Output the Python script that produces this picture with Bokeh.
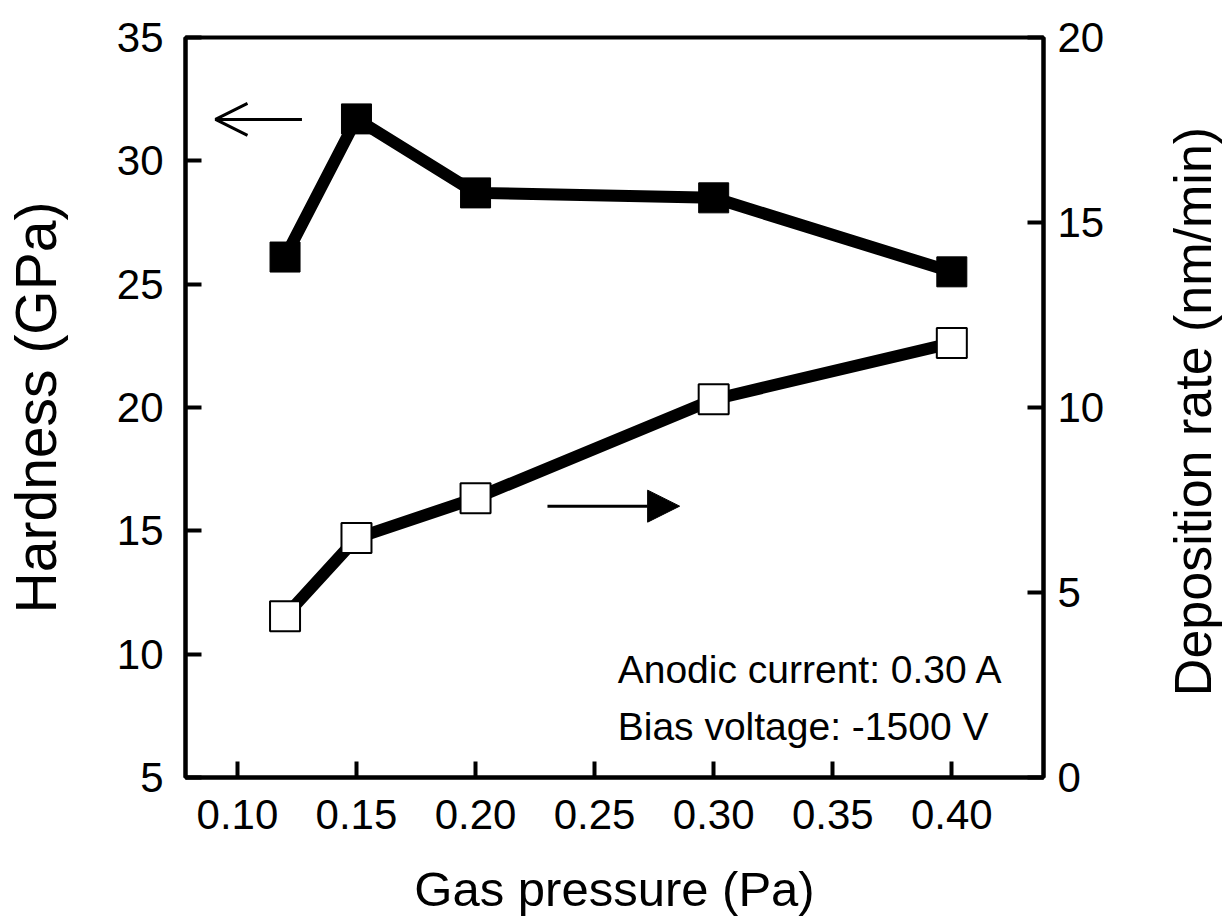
import math
from bokeh.plotting import figure
from bokeh.layouts import row
from bokeh.models import (Range1d, LinearAxis, FixedTicker, PrintfTickFormatter,
                          Arrow, OpenHead, NormalHead, Label)
from bokeh.embed import file_html
from bokeh.resources import INLINE

# ---- data ----
pressure = [0.12, 0.15, 0.20, 0.30, 0.40]
hardness = [26.1, 31.7, 28.7, 28.5, 25.5]
deposition = [4.36, 6.47, 7.55, 10.22, 11.74]

x_ticks = [0.10, 0.15, 0.20, 0.25, 0.30, 0.35, 0.40]
left_ticks = [5, 10, 15, 20, 25, 30, 35]
right_ticks = [0, 5, 10, 15, 20]

x_title = "Gas pressure (Pa)"
left_title = "Hardness (GPa)"
right_title = "Deposition rate  (nm/min)"
notes = ["Anodic current: 0.30 A", "Bias voltage: -1500 V"]
note_y = [9.38, 7.07]

# arrow annotations (pressure, hardness-axis units)
left_arrow = dict(x0=0.1271, x1=0.0908, y=31.68)
right_arrow = dict(x0=0.2302, x1=0.2857, y=16.0)

FONT = "Liberation Sans"
W, H = 1227, 920
W2 = 60          # narrow strip that carries the right-hand axis title
W1 = W - W2

p = figure(width=W1, height=H, output_backend="svg", toolbar_location=None,
           x_range=Range1d(0.0782, 0.4385), y_range=Range1d(5, 35),
           min_border_left=183, min_border_right=W1 - 1043,
           min_border_top=37, min_border_bottom=143,
           x_axis_label=x_title, y_axis_label=left_title)
p.extra_y_ranges = {"dep": Range1d(0, 20)}

p.grid.visible = False
p.outline_line_color = "black"
p.outline_line_width = 4
p.background_fill_color = "white"
p.border_fill_color = "white"

def style_axis(ax):
    ax.axis_line_width = 4
    ax.axis_line_color = "black"
    ax.major_tick_line_width = 4
    ax.major_tick_line_color = "black"
    ax.major_tick_in = 16
    ax.major_tick_out = 0
    ax.minor_tick_line_color = None
    ax.major_label_text_font = FONT
    ax.major_label_text_font_size = "42px"
    ax.major_label_text_color = "black"
    ax.axis_label_text_font = FONT
    ax.axis_label_text_font_size = "49px"
    ax.axis_label_text_font_style = "normal"
    ax.axis_label_text_color = "black"

xa = p.xaxis[0]
style_axis(xa)
xa.ticker = FixedTicker(ticks=x_ticks)
xa.formatter = PrintfTickFormatter(format="%.2f")
xa.major_label_standoff = 22
xa.axis_label_standoff = 30

ya = p.yaxis[0]
style_axis(ya)
ya.ticker = FixedTicker(ticks=left_ticks)
ya.major_label_standoff = 22
ya.axis_label_standoff = 46
ya.axis_label_text_font_size = "57px"

ra = LinearAxis(y_range_name="dep")
style_axis(ra)
ra.ticker = FixedTicker(ticks=right_ticks)
ra.major_label_standoff = 14
p.add_layout(ra, "right")

# hardness series
p.line(pressure, hardness, line_width=12, line_color="black", line_join="miter")
p.scatter(pressure, hardness, marker="square", size=30,
          fill_color="black", line_color="black", line_width=1)

# deposition series
p.line(pressure, deposition, y_range_name="dep", line_width=12,
       line_color="black", line_join="miter")
p.scatter(pressure, deposition, y_range_name="dep", marker="square", size=30,
          fill_color="white", line_color="black", line_width=2)

# arrows
p.add_layout(Arrow(x_start=left_arrow["x0"], y_start=left_arrow["y"],
                   x_end=left_arrow["x1"], y_end=left_arrow["y"],
                   line_width=3, line_color="black",
                   end=OpenHead(size=32, line_width=3, line_color="black")))
p.add_layout(Arrow(x_start=right_arrow["x0"], y_start=right_arrow["y"],
                   x_end=right_arrow["x1"], y_end=right_arrow["y"],
                   line_width=3, line_color="black",
                   end=NormalHead(size=32, fill_color="black", line_color="black")))

# notes
for txt, yy in zip(notes, note_y):
    p.add_layout(Label(x=0.2597, y=yy, text=txt, text_font=FONT,
                       text_font_size="39px", text_color="black",
                       text_baseline="alphabetic", text_align="left"))

# right-hand axis title, reading bottom-to-top, in a narrow strip
p2 = figure(width=W2, height=H, output_backend="svg", toolbar_location=None,
            x_range=Range1d(0, W2), y_range=Range1d(0, H),
            min_border=0, x_axis_location=None, y_axis_location=None)
p2.grid.visible = False
p2.outline_line_color = None
p2.background_fill_color = "white"
p2.border_fill_color = "white"
p2.add_layout(Label(x=25, y=464, text=right_title, angle=math.pi / 2,
                    text_font=FONT, text_font_size="52px", text_color="black",
                    text_align="center", text_baseline="middle"))

open("out.html", "w").write(file_html(row(p, p2), INLINE))
